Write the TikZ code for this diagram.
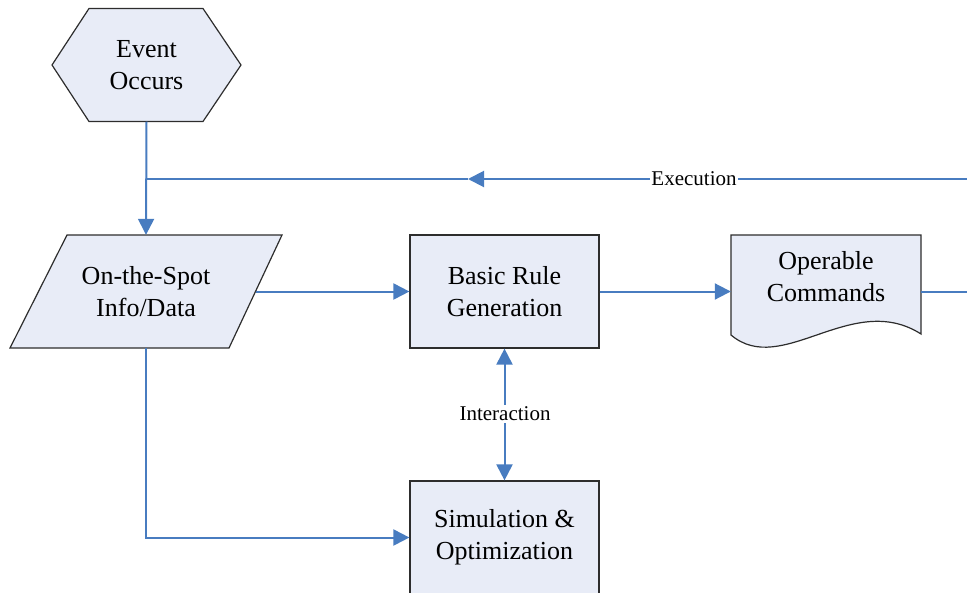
\documentclass[tikz,border=0pt]{standalone}
\usepackage{fontspec}
\setmainfont{Liberation Serif}
\usetikzlibrary{arrows.meta,calc}
\definecolor{boxfill}{RGB}{232,236,247}
\definecolor{flowblue}{RGB}{72,124,192}
\definecolor{edgegray}{RGB}{45,45,45}
\begin{document}
\begin{tikzpicture}[x=1pt,y=-1pt,
  outline/.style={draw=edgegray, line width=1.2pt, fill=boxfill, line join=miter},
  txt/.style={inner sep=0pt, align=center, font=\fontsize{26}{32}\selectfont, text=black},
  frame/.style={txt, minimum width=#1, minimum height=113pt},
  box/.style={frame=189pt, outline},
  tip/.tip={Triangle[length=16pt,width=16pt]},
  flow/.style={draw=flowblue, line width=2pt, -tip},
  plain/.style={draw=flowblue, line width=2pt},
  lbl/.style={fill=white, inner sep=1.5pt, font=\fontsize{21}{24}\selectfont, text=black}]
\useasboundingbox (0,0) rectangle (967,592);

% hexagon: event
\path[outline] (52,65) -- (89,8.5) -- (203,8.5) -- (241,65) -- (203,121.5) -- (89,121.5) -- cycle;
\node[frame=189pt] (ev) at (146.5,65) {Event\\Occurs};

% parallelogram: input data
\path[outline] (67,235) -- (282,235) -- (229,348) -- (10,348) -- cycle;
\node[frame=219pt] (info) at (146,291.5) {On-the-Spot\\Info/Data};

% process boxes
\node[box] (rule) at (504.5,291.5) {Basic Rule\\Generation};
\node[box] (sim) at (504.5,537.5) {Simulation \&\\Optimization};

% document: operable commands
\path[outline] (731,235) -- (921,235) -- (921,334)
  .. controls (852,290) and (782,378) .. (731,335) -- cycle;
\node[frame=190pt] (cmd) at (826,291.5) {};
\node[txt] (cmdtxt) at (826,277) {Operable\\Commands};

% connectors
\coordinate (jn) at (146,179);
\coordinate (ex) at (468,179);
\coordinate (xr) at (1000,291.5);

\draw[flow] (ev.south) -- (info.north);
\draw[flow] (info.east) -- (rule.west);
\draw[flow] (rule.east) -- (cmd.west);
\draw[flow] (info.south) |- (sim.west);
\draw[plain, tip-tip] (rule.south) -- (sim.north);
\node[lbl] (inter) at (505,414) {Interaction};

\draw[flow] (cmd.east) -- (xr) |- (ex);
\draw[plain] (ex) -- (jn);
\node[lbl] (exec) at (694,179) {Execution};
\end{tikzpicture}
\end{document}
